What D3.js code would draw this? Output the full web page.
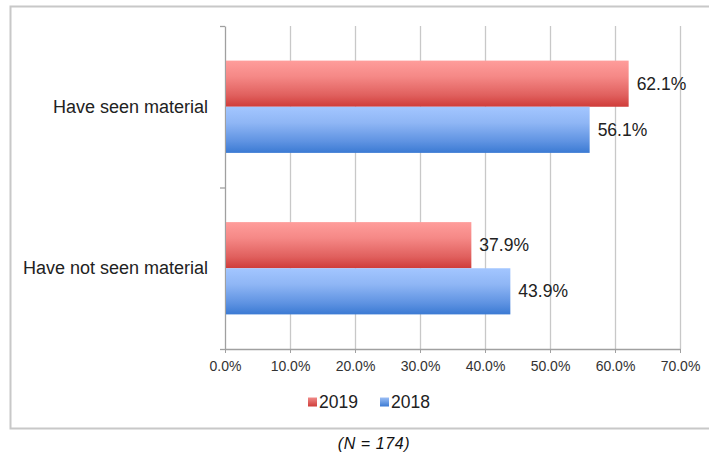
<!DOCTYPE html>
<html><head><meta charset="utf-8">
<script src="https://cdn.jsdelivr.net/npm/d3@7"></script>
<style>body{margin:0;background:#fff;}svg{display:block;font-family:"Liberation Sans",Arial,sans-serif;}</style>
</head><body><svg id="c" width="709" height="452"></svg>
<script>
const categories = ["Have seen material", "Have not seen material"];
const series = ["2019", "2018"];
const values2019 = [62.1, 37.9];
const values2018 = [56.1, 43.9];
const xTicks = [0, 10, 20, 30, 40, 50, 60, 70];
const note = "(N = 174)";

(function(){
const svg = d3.select("#c");
const defs = svg.append("defs");
function grad(id, stops){
  const g = defs.append("linearGradient").attr("id", id).attr("x1",0).attr("y1",0).attr("x2",0).attr("y2",1);
  stops.forEach(s => g.append("stop").attr("offset", s[0]).attr("stop-color", s[1]));
}
grad("gRed", [[0,"#ff9d9b"],[0.35,"#f58886"],[0.75,"#e0605e"],[1,"#cf3c39"]]);
grad("gBlue", [[0,"#a3c6ff"],[0.35,"#8fb6f5"],[0.75,"#5f93e2"],[1,"#3b7ad3"]]);
grad("lRed", [[0,"#f08a88"],[1,"#cf3c39"]]);
grad("lBlue", [[0,"#9bbef5"],[1,"#3b7ad3"]]);

// outer frame
svg.append("path").attr("d","M720,6.5 H10.5 V428.5 H720").attr("fill","none").attr("stroke","#c8c8c8").attr("stroke-width",2);

const pL = 225, pR = 680, pT = 26, pB = 349;
const x = d3.scaleLinear().domain([0, 70]).range([pL, pR]);
const y = d3.scaleBand().domain(categories).range([pT, pB]).paddingInner(0).paddingOuter(0);
const inner = d3.scaleBand().domain(series).range([0, y.bandwidth()]).paddingInner(0).paddingOuter(0.75);

// gridlines
svg.append("g").selectAll("line").data(xTicks.filter(t=>t>0)).join("line")
  .attr("x1", d=>x(d)+0.5).attr("x2", d=>x(d)+0.5).attr("y1", pT).attr("y2", pB)
  .attr("stroke","#c8c8c8").attr("stroke-width",1.3);

// x axis
const xAxis = svg.append("g").attr("transform",`translate(0,${pB})`)
  .call(d3.axisBottom(x).tickValues(xTicks).tickFormat(d=>d.toFixed(1)+"%").tickSize(4).tickSizeOuter(0));
xAxis.select(".domain").attr("stroke","#a0a0a0").attr("stroke-width",1.3);
xAxis.selectAll(".tick line").attr("stroke","#a0a0a0");
xAxis.selectAll("text").attr("font-size",14).attr("fill","#333").attr("y",17).attr("dy","0.35em")
  .style("font-family","Liberation Sans, Arial, sans-serif");

// y axis
const yAxis = svg.append("g").attr("transform",`translate(${pL},0)`)
  .call(d3.axisLeft(y).tickSize(0).tickSizeOuter(0).tickPadding(17));
yAxis.select(".domain").attr("stroke","#a0a0a0").attr("stroke-width",1.3);
yAxis.selectAll("text").attr("font-size",18).attr("fill","#222")
  .style("font-family","Liberation Sans, Arial, sans-serif");
// category separator ticks
const seps = [pT, y(categories[1]), pB];
svg.append("g").selectAll("line").data(seps).join("line")
  .attr("x1", pL-5).attr("x2", pL).attr("y1", d=>d+0.5).attr("y2", d=>d+0.5)
  .attr("stroke","#a0a0a0").attr("stroke-width",1.3);

const data = [];
categories.forEach((c,i)=>{
  data.push({cat:c, s:"2019", v:values2019[i]});
  data.push({cat:c, s:"2018", v:values2018[i]});
});
const fillOf = s => s==="2019" ? "url(#gRed)" : "url(#gBlue)";

svg.append("g").selectAll("rect").data(data).join("rect")
  .attr("x", x(0)+1).attr("y", d=>y(d.cat)+inner(d.s))
  .attr("width", d=>x(d.v)-x(0)-1).attr("height", inner.bandwidth())
  .attr("fill", d=>fillOf(d.s));

svg.append("g").selectAll("text").data(data).join("text")
  .attr("x", d=>x(d.v)+8).attr("y", d=>y(d.cat)+inner(d.s)+inner.bandwidth()/2)
  .attr("dy","0.35em").attr("font-size",17.5).attr("fill","#222")
  .text(d=>d.v.toFixed(1)+"%");

// legend
const legend = svg.append("g");
const legendItems = [{s:"2019", x:308, f:"url(#lRed)"},{s:"2018", x:380, f:"url(#lBlue)"}];
legendItems.forEach(it=>{
  legend.append("rect").attr("x",it.x).attr("y",397.5).attr("width",9).attr("height",9).attr("fill",it.f);
  legend.append("text").attr("x",it.x+11).attr("y",402).attr("dy","0.35em")
    .attr("font-size",17.5).attr("fill","#222").text(it.s);
});

svg.append("text").attr("x",374).attr("y",443).attr("dy","0.35em").attr("text-anchor","middle")
  .attr("font-size",16).attr("letter-spacing",0.6).attr("font-style","italic").attr("fill","#111").text(note);
})();
</script></body></html>
